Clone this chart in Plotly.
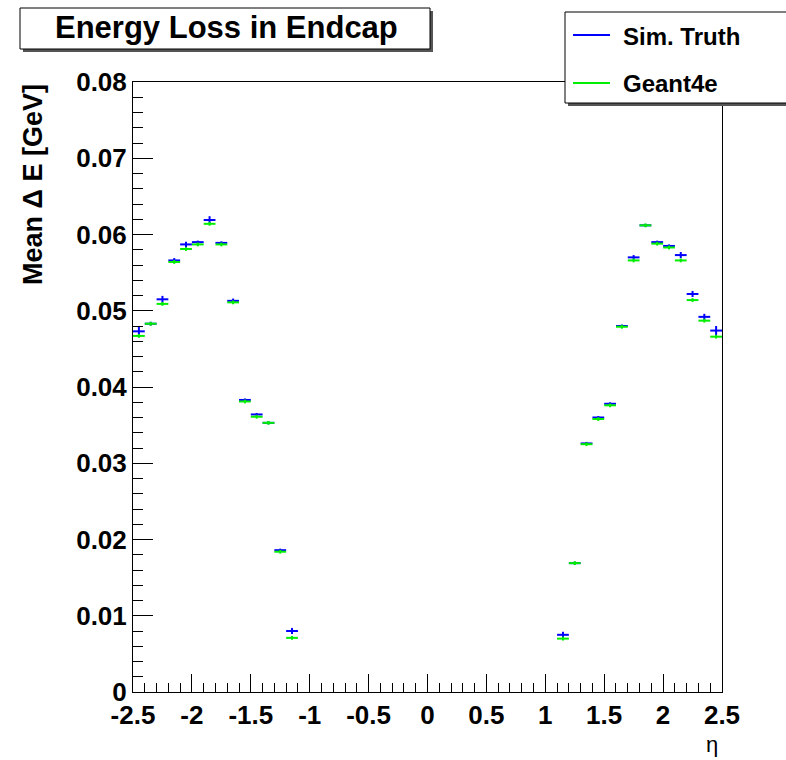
import plotly.graph_objects as go

# ---------------- data ----------------
eta = [-2.45, -2.35, -2.25, -2.15, -2.05, -1.95, -1.85, -1.75, -1.65, -1.55, -1.45, -1.35, -1.25, -1.15,
       1.15, 1.25, 1.35, 1.45, 1.55, 1.65, 1.75, 1.85, 1.95, 2.05, 2.15, 2.25, 2.35, 2.45]
bin_half_width = [0.05] * len(eta)

sim_truth = [0.0473, 0.0483, 0.0515, 0.0566, 0.0587, 0.0590, 0.0619, 0.0589, 0.0513, 0.0383, 0.0364, 0.0353, 0.0186, 0.0080,
             0.0075, 0.0169, 0.0326, 0.0360, 0.0378, 0.0480, 0.0570, 0.0612, 0.0590, 0.0585, 0.0573, 0.0522, 0.0492, 0.0474]
sim_truth_err = [0.0006, 0.00025, 0.00045, 0.0003, 0.00035, 0.0002, 0.0005, 0.0002, 0.0003, 0.0002, 0.0002, 0.0002, 0.0002, 0.0004,
                 0.0004, 0.0002, 0.0002, 0.0002, 0.0002, 0.0002, 0.0003, 0.0002, 0.0002, 0.0002, 0.0004, 0.0004, 0.0004, 0.0006]

geant4e = [0.0467, 0.0483, 0.0509, 0.0564, 0.0581, 0.0587, 0.0614, 0.0587, 0.0511, 0.0381, 0.0361, 0.0353, 0.0184, 0.0071,
           0.0070, 0.0169, 0.0325, 0.0358, 0.0376, 0.0479, 0.0566, 0.0612, 0.0588, 0.0583, 0.0566, 0.0514, 0.0487, 0.0466]
geant4e_err = [0.00025] * len(eta)

x_tickvals = [-2.5, -2, -1.5, -1, -0.5, 0, 0.5, 1, 1.5, 2, 2.5]
x_ticktext = ["-2.5", "-2", "-1.5", "-1", "-0.5", "0", "0.5", "1", "1.5", "2", "2.5"]
y_tickvals = [0, 0.01, 0.02, 0.03, 0.04, 0.05, 0.06, 0.07, 0.08]
y_ticktext = ["0", "0.01", "0.02", "0.03", "0.04", "0.05", "0.06", "0.07", "0.08"]

series_names = ["Sim. Truth", "Geant4e"]
series_colors = ["#0000ff", "#00ee00"]

# ---------------- layout constants (pixels) ----------------
W, H = 786, 760
L, R, T, B = 133, 722, 82, 692
PW, PH = R - L, B - T


def px(x):
    return (x - L) / PW


def py(y):
    return (B - y) / PH


FONT = "Liberation Sans, Arial, Helvetica, sans-serif"

fig = go.Figure()

for name, yv, ye, col in [(series_names[0], sim_truth, sim_truth_err, series_colors[0]),
                          (series_names[1], geant4e, geant4e_err, series_colors[1])]:
    fig.add_trace(go.Scatter(
        x=eta, y=yv, mode="markers", name=name, showlegend=False,
        marker=dict(size=1, color=col),
        error_x=dict(type="data", array=bin_half_width, color=col, thickness=2, width=0),
        error_y=dict(type="data", array=ye, color=col, thickness=2, width=0),
    ))

shapes = []
# title box with shadow
shapes.append(dict(type="rect", xref="paper", yref="paper", x0=px(23), x1=px(433), y0=py(52), y1=py(11),
                   line=dict(width=0), fillcolor="#555555", layer="above"))
shapes.append(dict(type="rect", xref="paper", yref="paper", x0=px(20), x1=px(430), y0=py(49), y1=py(8),
                   line=dict(color="black", width=1), fillcolor="white", layer="above"))
# legend box with shadow
shapes.append(dict(type="rect", xref="paper", yref="paper", x0=px(568), x1=px(800), y0=py(106), y1=py(15),
                   line=dict(width=0), fillcolor="#555555", layer="above"))
shapes.append(dict(type="rect", xref="paper", yref="paper", x0=px(565), x1=px(797), y0=py(103), y1=py(12),
                   line=dict(color="black", width=1), fillcolor="white", layer="above"))
# legend line samples
for yy, col in [(35, series_colors[0]), (83, series_colors[1])]:
    shapes.append(dict(type="line", xref="paper", yref="paper", x0=px(573), x1=px(610), y0=py(yy), y1=py(yy),
                       line=dict(color=col, width=2), layer="above"))

annotations = [
    dict(text="Energy Loss in Endcap", xref="paper", yref="paper", x=px(226), y=py(28),
         xanchor="center", yanchor="middle", showarrow=False,
         font=dict(family=FONT, size=31, color="black", weight="bold")),
    dict(text=series_names[0], xref="paper", yref="paper", x=px(621), y=py(36),
         xanchor="left", yanchor="middle", showarrow=False,
         font=dict(family=FONT, size=24, color="black", weight="bold")),
    dict(text=series_names[1], xref="paper", yref="paper", x=px(621), y=py(84),
         xanchor="left", yanchor="middle", showarrow=False,
         font=dict(family=FONT, size=24, color="black", weight="bold")),
    dict(text="Mean \u0394 E [GeV]", xref="paper", yref="paper", x=px(33), y=py(185),
         xanchor="center", yanchor="middle", textangle=-90, showarrow=False,
         font=dict(family=FONT, size=27, color="black", weight="bold")),
    dict(text="\u03b7", xref="paper", yref="paper", x=px(712), y=py(744),
         xanchor="center", yanchor="middle", showarrow=False,
         font=dict(family=FONT, size=22, color="black")),
]

axis_font = dict(family=FONT, size=26, color="black", weight="bold")

fig.update_layout(
    width=W, height=H,
    margin=dict(l=L, r=W - R, t=T, b=H - B, pad=0),
    paper_bgcolor="white", plot_bgcolor="white",
    shapes=shapes, annotations=annotations,
    xaxis=dict(range=[-2.5, 2.5], showgrid=False, zeroline=False,
               showline=True, linecolor="black", linewidth=1, mirror=True,
               ticks="inside", ticklen=18, tickcolor="black", tickwidth=1,
               tickvals=x_tickvals, ticktext=x_ticktext, tickfont=axis_font,
               minor=dict(ticks="inside", ticklen=9, dtick=0.1, tickcolor="black", tickwidth=1, showgrid=False)),
    yaxis=dict(range=[0, 0.08], showgrid=False, zeroline=False,
               showline=True, linecolor="black", linewidth=1, mirror=True,
               ticks="inside", ticklen=20, tickcolor="black", tickwidth=1,
               tickvals=y_tickvals, ticktext=y_ticktext, tickfont=axis_font,
               minor=dict(ticks="inside", ticklen=10, dtick=0.002, tickcolor="black", tickwidth=1, showgrid=False)),
)

fig.write_html("out.html")
